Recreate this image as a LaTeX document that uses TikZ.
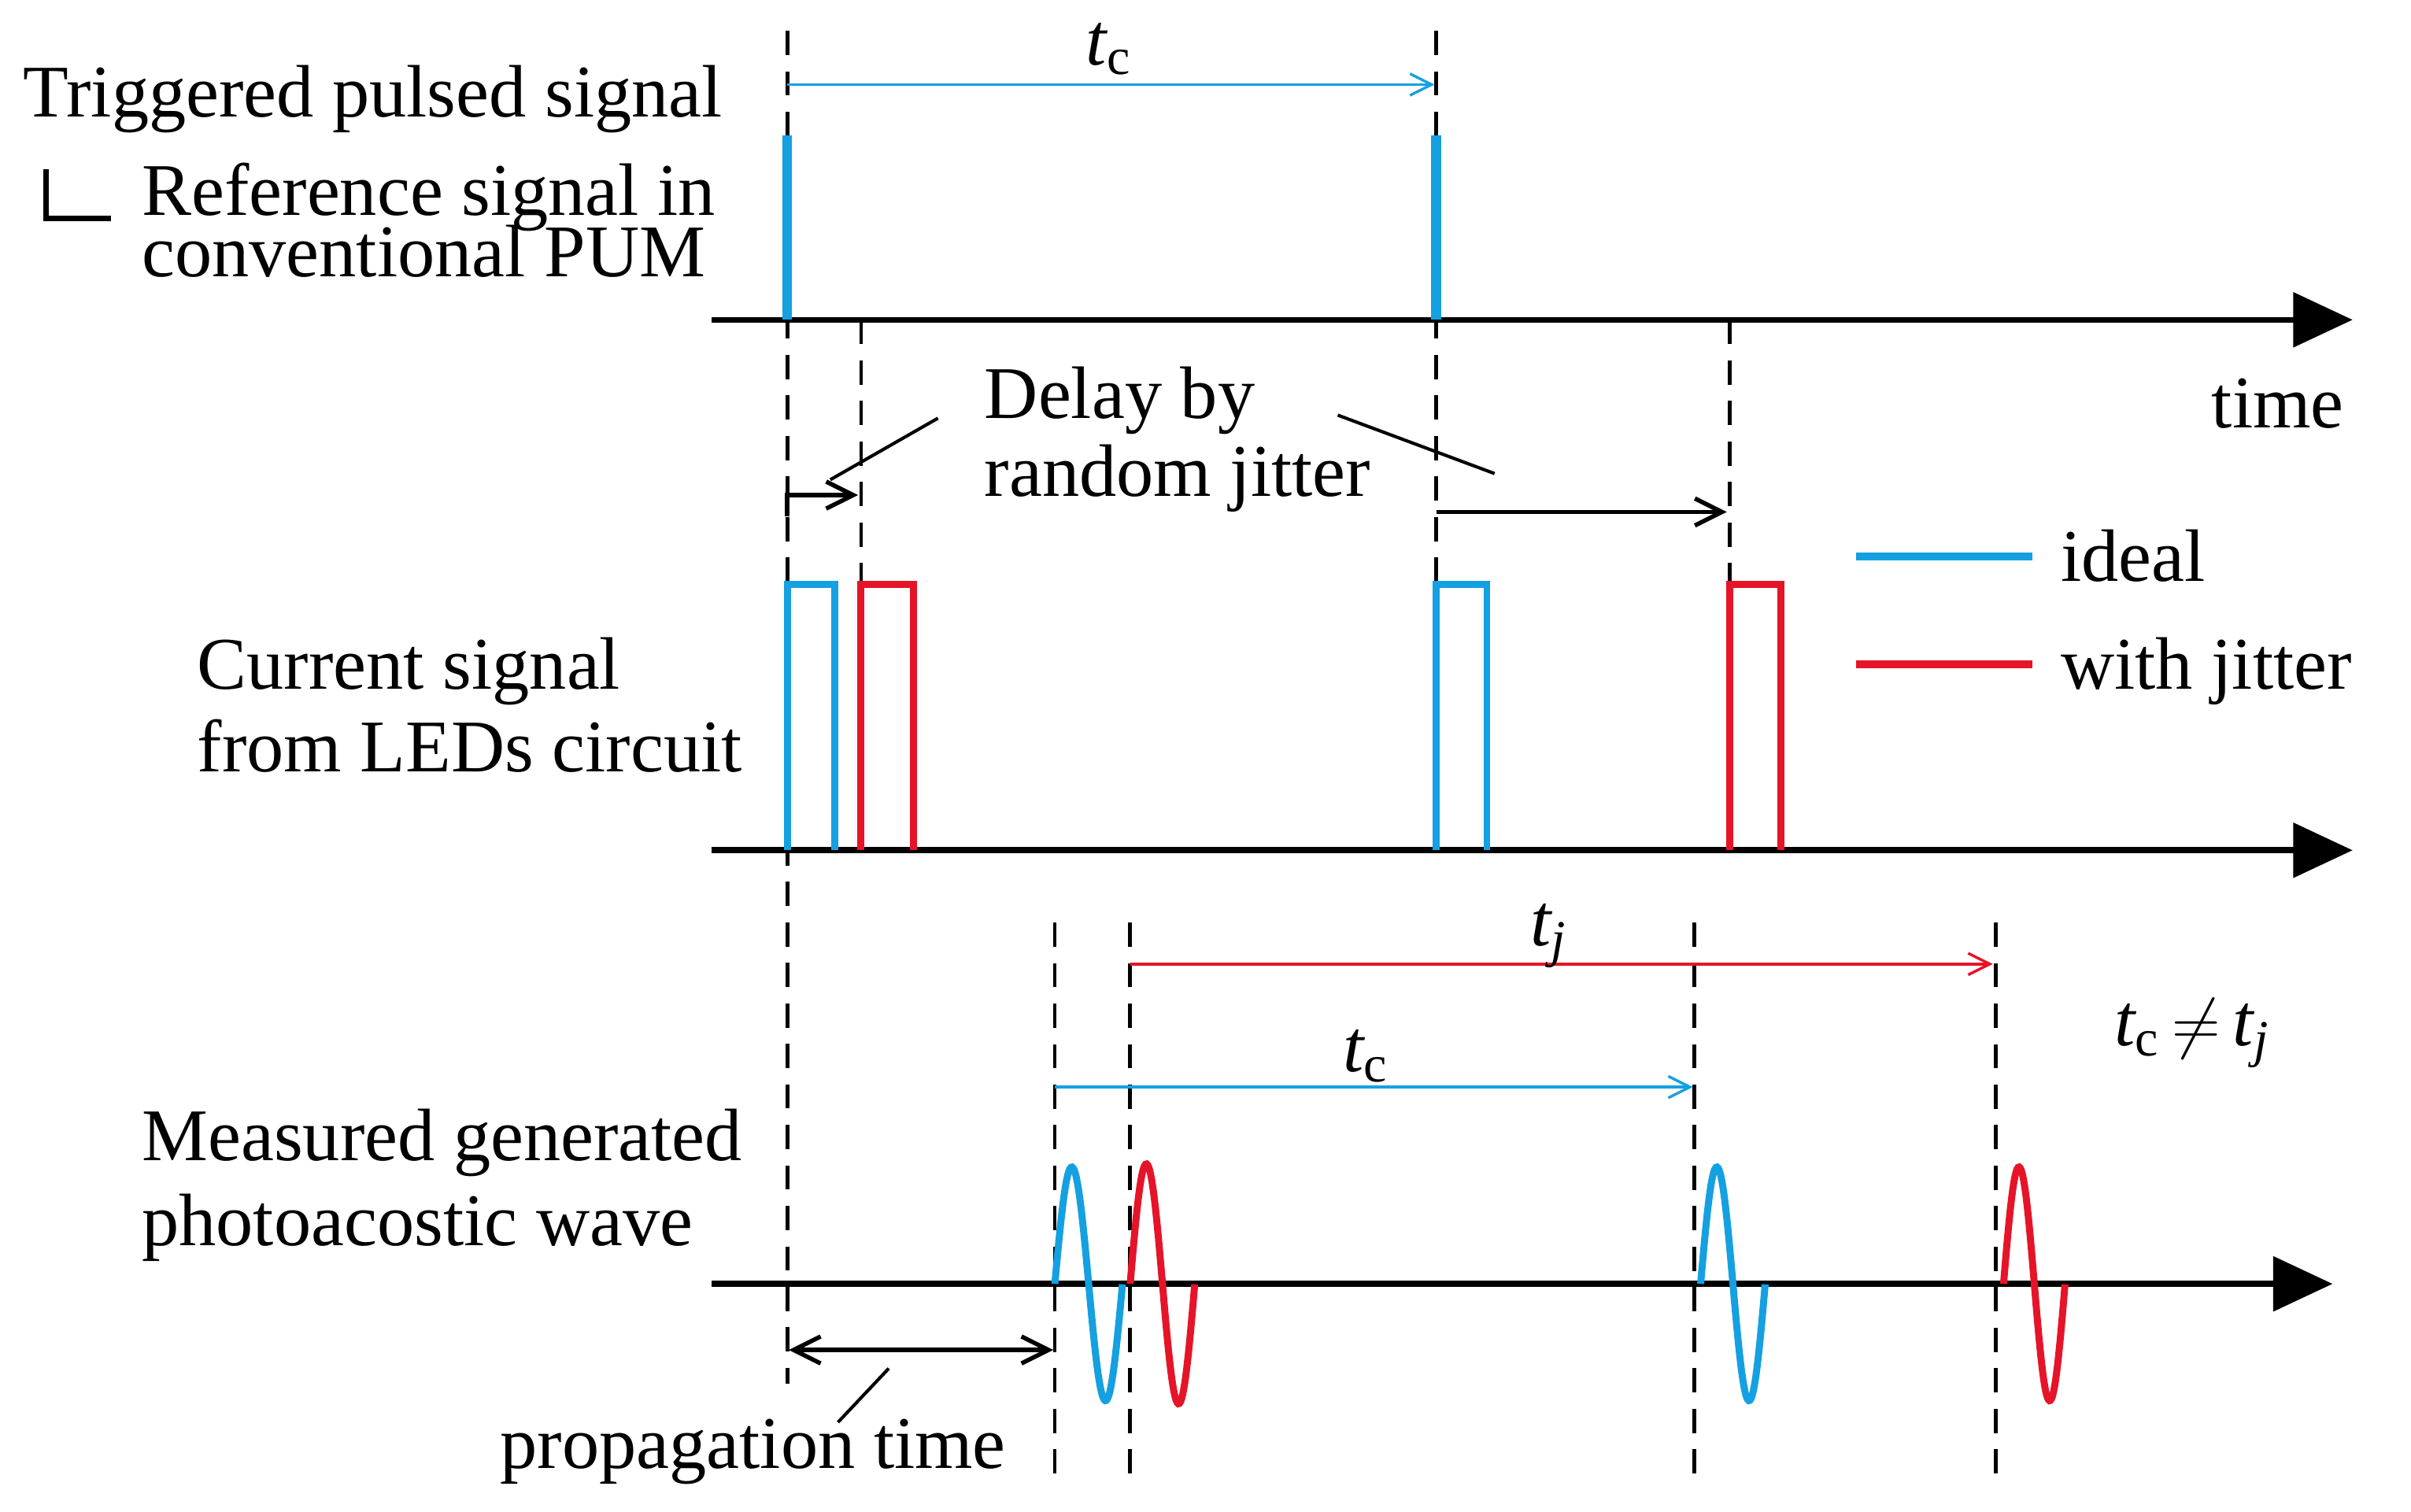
\documentclass[tikz,border=0pt]{standalone}
\usepackage{fontspec}
\setmainfont{Liberation Serif}
\usetikzlibrary{arrows.meta}
\definecolor{cb}{RGB}{20,160,225}
\definecolor{cr}{RGB}{230,20,40}
\begin{document}
\begin{tikzpicture}[x=0.02cm,y=-0.02cm,
  txt/.style={font=\fontsize{27.5}{30}\selectfont,inner sep=0pt,anchor=base west},
  itx/.style={txt,font=\fontsize{27.5}{30}\selectfont\itshape},
  ax/.style={line width=2.2pt,-{Triangle[length=22pt,width=20pt]}},
  dsh/.style={line width=1.4pt,dash pattern=on 9pt off 6pt},
  pulse/.style={line width=2.6pt},
  thin/.style={line width=1pt,-{Straight Barb[length=8pt,width=8pt]}},
  wave/.style={line width=2.6pt}]
\useasboundingbox (0,0) rectangle (1568,983);
% axes
\coordinate (a1s) at (463,208); \coordinate (a1e) at (1530,208);
\coordinate (a2s) at (463,553); \coordinate (a2e) at (1530,553);
\coordinate (a3s) at (463,835); \coordinate (a3e) at (1517,835);
\draw[ax] (a1s) -- (a1e);
\draw[ax] (a2s) -- (a2e);
\draw[ax] (a3s) -- (a3e);
% dashed
\draw[dsh] (512,20) -- (512,900);
\draw[dsh] (934,20) -- (934,380);
\draw[dsh] (560,208) -- (560,380);
\draw[dsh] (1125,208) -- (1125,380);
\foreach \x in {686,735,1102,1298} \draw[dsh] (\x,600) -- (\x,962);
% top bars
\draw[cb,line width=3.6pt] (512,88) -- (512,208);
\draw[cb,line width=3.6pt] (934,88) -- (934,208);
\coordinate (tc1a) at (512,55); \coordinate (tc1b) at (933,55);
\draw[cb,thin] (tc1a) -- (tc1b);
\node[itx] (tc1) at (706,42) {t\textsubscript{\upshape c}};
% texts
\node[txt] (t1) at (15,76) {Triggered pulsed signal};
\draw[line width=2pt] (30,110) -- (30,142) -- (72,142);
\node[txt] (t2) at (92,140) {Reference signal in};
\node[txt] (t3) at (92,180) {conventional PUM};
\node[txt] (time) at (1438,278) {time};
\node[txt] (d1) at (640,272) {Delay by};
\node[txt] (d2) at (640,323) {random jitter};
\draw[line width=1.2pt] (610,272) -- (540,312);
\draw[line width=1.2pt] (870,270) -- (972,308);
\draw[line width=1.6pt,-{Straight Barb[length=10pt,width=10pt]}] (512,336) -- (512,322) -- (558,322);
\draw[line width=1.6pt,-{Straight Barb[length=10pt,width=10pt]}] (934,333) -- (1123,333);
% pulses
\draw[cb,pulse] (512,553) -- (512,380) -- (543,380) -- (543,553);
\draw[cb,pulse] (934,553) -- (934,380) -- (967,380) -- (967,553);
\draw[cr,pulse] (560,553) -- (560,380) -- (594,380) -- (594,553);
\draw[cr,pulse] (1125,553) -- (1125,380) -- (1158,380) -- (1158,553);
% legend
\draw[cb,line width=2.8pt] (1207,362) -- (1322,362);
\draw[cr,line width=2.8pt] (1207,432) -- (1322,432);
\node[txt] (li) at (1340,378) {ideal};
\node[txt] (lj) at (1340,448) {with jitter};
\node[txt] (c1) at (128,448) {Current signal};
\node[txt] (c2) at (128,502) {from LEDs circuit};
% bottom arrows
\draw[cr,thin] (735,627) -- (1296,627);
\node[itx] (tj) at (995,615) {t\textsubscript{j}};
\draw[cb,thin] (686,707) -- (1101,707);
\node[itx] (tc2) at (873,697) {t\textsubscript{\upshape c}};
\node[itx] (neq) at (1375,680) {t\textsubscript{\upshape c}\,\upshape$\neq$\,\itshape t\textsubscript{j}};
\node[txt] (m1) at (92,755) {Measured generated};
\node[txt] (m2) at (92,810) {photoacostic wave};
\draw[line width=1.6pt,{Straight Barb[length=10pt,width=10pt]}-{Straight Barb[length=10pt,width=10pt]}] (513,878) -- (685,878);
\draw[line width=1.2pt] (578,890) -- (545,925);
\node[txt] (pt) at (325,955) {propagation time};
% waves
\draw[cb,wave] plot[domain=0:1,samples=60,smooth] ({686+44*\x},{835-76*sin(360*\x)});
\draw[cr,wave] plot[domain=0:1,samples=60,smooth] ({735+42*\x},{835-78*sin(360*\x)});
\draw[cb,wave] plot[domain=0:1,samples=60,smooth] ({1106+42*\x},{835-76*sin(360*\x)});
\draw[cr,wave] plot[domain=0:1,samples=60,smooth] ({1303+40*\x},{835-76*sin(360*\x)});
\end{tikzpicture}
\end{document}
